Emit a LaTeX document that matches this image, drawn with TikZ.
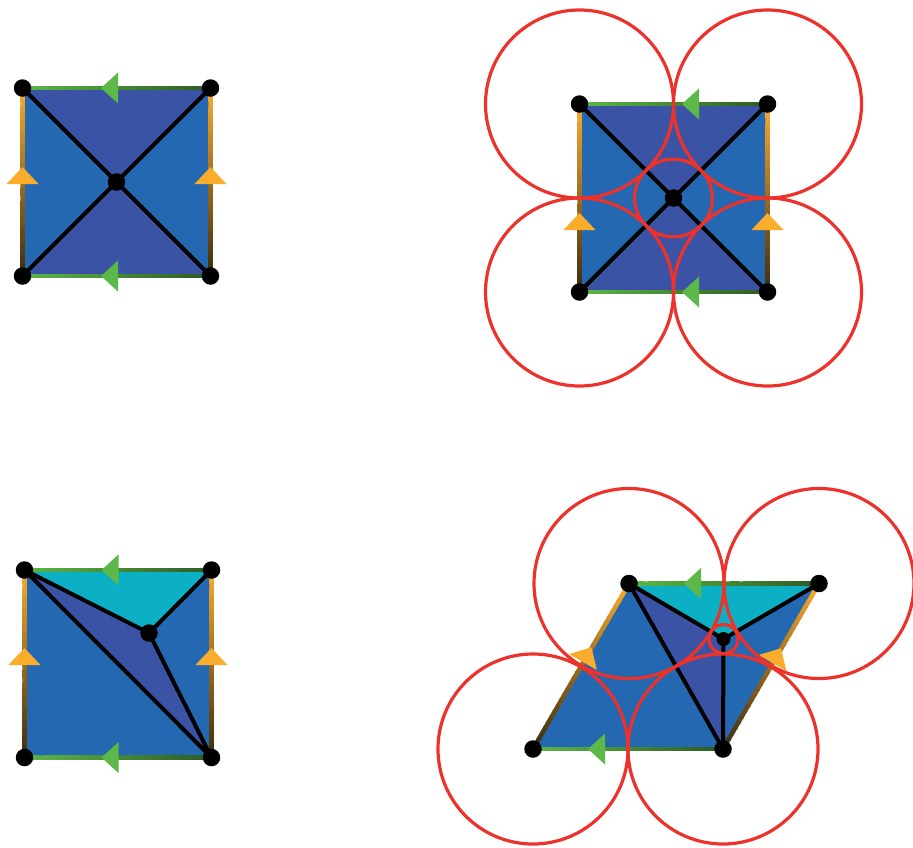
\documentclass[tikz,border=0pt]{standalone}
\usetikzlibrary{calc}
\definecolor{dblue}{RGB}{58,83,164}
\definecolor{lblue}{RGB}{36,104,177}
\definecolor{cyanf}{RGB}{11,176,197}
\definecolor{redc}{RGB}{236,50,43}
\definecolor{greenc}{RGB}{92,184,72}
\definecolor{greend}{RGB}{45,90,35}
\definecolor{orangec}{RGB}{250,172,45}
\definecolor{oranged}{RGB}{60,44,15}
\tikzset{
  dot/.style={circle,fill=black,inner sep=0pt,minimum size=17.5pt},
  sdot/.style={circle,fill=black,inner sep=0pt,minimum size=14pt},
  web/.style={line width=4pt,black,line cap=round,line join=round},
  ring/.style={draw=redc,line width=3.2pt},
  gflag/.style={fill=greenc},
  oflag/.style={fill=orangec},
}
\newcommand{\gradedge}[4]{%
  \foreach \i in {0,...,29}{%
    \pgfmathsetmacro{\ta}{\i/30}%
    \pgfmathsetmacro{\tb}{min(1,(\i+1.3)/30)}%
    \pgfmathtruncatemacro{\pc}{100*(\i+0.5)/30}%
    \draw[line width=4.5pt,color=#4!\pc!#3] ($(#1)!\ta!(#2)$) -- ($(#1)!\tb!(#2)$);
  }}
\newcommand{\flag}[4]{\fill[#1,shift={(#2)},rotate=#3] (0,-#4) -- (17,0) -- (0,#4) -- cycle;}
\begin{document}
\begin{tikzpicture}[x=1pt,y=-1pt]
\useasboundingbox (0,0) rectangle (913,847);
% ---------- panel 1 ----------
\coordinate (a1) at (22.5,88);
\coordinate (b1) at (210.5,88);
\coordinate (c1) at (22.5,276);
\coordinate (d1) at (210.5,276);
\coordinate (o1) at (116.5,182);
\fill[lblue] (a1) -- (b1) -- (d1) -- (c1) -- cycle;
\fill[dblue] (a1) -- (b1) -- (o1) -- cycle;
\fill[dblue] (c1) -- (d1) -- (o1) -- cycle;
\gradedge{a1}{b1}{greenc}{greend}
\gradedge{c1}{d1}{greenc}{greend}
\gradedge{a1}{c1}{orangec}{oranged}
\gradedge{b1}{d1}{orangec}{oranged}
\flag{gflag}{118,88}{180}{15.5}
\flag{gflag}{118,276}{180}{15.5}
\flag{oflag}{22.5,184}{90}{16}
\flag{oflag}{210.5,184}{90}{16}
\draw[web] (a1) -- (d1);
\draw[web] (b1) -- (c1);
\node[dot] (A1) at (a1) {};
\node[dot] (B1) at (b1) {};
\node[dot] (C1) at (c1) {};
\node[dot] (D1) at (d1) {};
\node[dot] (O1) at (o1) {};
% ---------- panel 2 ----------
\coordinate (a2) at (579.5,104);
\coordinate (b2) at (767.5,104);
\coordinate (c2) at (579.5,292);
\coordinate (d2) at (767.5,292);
\coordinate (o2) at (673.5,198);
\fill[lblue] (a2) -- (b2) -- (d2) -- (c2) -- cycle;
\fill[dblue] (a2) -- (b2) -- (o2) -- cycle;
\fill[dblue] (c2) -- (d2) -- (o2) -- cycle;
\gradedge{a2}{b2}{greenc}{greend}
\gradedge{c2}{d2}{greenc}{greend}
\gradedge{a2}{c2}{orangec}{oranged}
\gradedge{b2}{d2}{orangec}{oranged}
\flag{gflag}{699,104}{180}{15.5}
\flag{gflag}{699,292}{180}{15.5}
\flag{oflag}{579.5,230}{90}{16}
\flag{oflag}{767.5,230}{90}{16}
\draw[web] (a2) -- (d2);
\draw[web] (b2) -- (c2);
\draw[ring] (a2) circle[radius=94];
\draw[ring] (b2) circle[radius=94];
\draw[ring] (c2) circle[radius=94];
\draw[ring] (d2) circle[radius=94];
\draw[ring] (o2) circle[radius=38.9];
\node[dot] (A2) at (a2) {};
\node[dot] (B2) at (b2) {};
\node[dot] (C2) at (c2) {};
\node[dot] (D2) at (d2) {};
\node[dot] (O2) at (o2) {};
% ---------- panel 3 ----------
\coordinate (a3) at (24.5,570);
\coordinate (b3) at (211.5,570);
\coordinate (c3) at (24.5,757.5);
\coordinate (d3) at (211.5,757.5);
\coordinate (p3) at (149,633);
\fill[lblue] (a3) -- (b3) -- (d3) -- (c3) -- cycle;
\fill[cyanf] (a3) -- (b3) -- (p3) -- cycle;
\fill[dblue] (a3) -- (p3) -- (d3) -- cycle;
\gradedge{a3}{b3}{greenc}{greend}
\gradedge{c3}{d3}{greenc}{greend}
\gradedge{a3}{c3}{orangec}{oranged}
\gradedge{b3}{d3}{orangec}{oranged}
\flag{gflag}{118.5,570}{180}{15.5}
\flag{gflag}{118.5,757.5}{180}{15.5}
\flag{oflag}{24.5,665}{90}{16}
\flag{oflag}{211.5,665}{90}{16}
\draw[web] (a3) -- (p3) -- (b3);
\draw[web] (p3) -- (d3) -- (a3);
\node[dot] (A3) at (a3) {};
\node[dot] (B3) at (b3) {};
\node[dot] (C3) at (c3) {};
\node[dot] (D3) at (d3) {};
\node[dot] (P3) at (p3) {};
% ---------- panel 4 ----------
\coordinate (a4) at (629,583.5);
\coordinate (b4) at (819,583.5);
\coordinate (c4) at (533,749);
\coordinate (d4) at (723,749);
\coordinate (p4) at (723.5,639);
\fill[lblue] (a4) -- (b4) -- (d4) -- (c4) -- cycle;
\fill[cyanf] (a4) -- (b4) -- (p4) -- cycle;
\fill[dblue] (a4) -- (p4) -- (d4) -- cycle;
\gradedge{a4}{b4}{greenc}{greend}
\gradedge{c4}{d4}{greenc}{greend}
\gradedge{a4}{c4}{orangec}{oranged}
\gradedge{b4}{d4}{orangec}{oranged}
\flag{gflag}{701,583.5}{180}{15.5}
\flag{gflag}{605,749}{180}{15.5}
\flag{oflag}{583,662}{60}{16}
\flag{oflag}{772.5,663}{60}{16}
\draw[web] (a4) -- (p4) -- (b4);
\draw[web] (p4) -- (d4) -- (a4);
\draw[ring] (a4) circle[radius=95];
\draw[ring] (b4) circle[radius=95];
\draw[ring] (c4) circle[radius=95];
\draw[ring] (d4) circle[radius=95];
\draw[ring] (p4) circle[radius=14.5];
\node[dot] (A4) at (a4) {};
\node[dot] (B4) at (b4) {};
\node[dot] (C4) at (c4) {};
\node[dot] (D4) at (d4) {};
\node[sdot] (P4) at (p4) {};
\end{tikzpicture}
\end{document}
